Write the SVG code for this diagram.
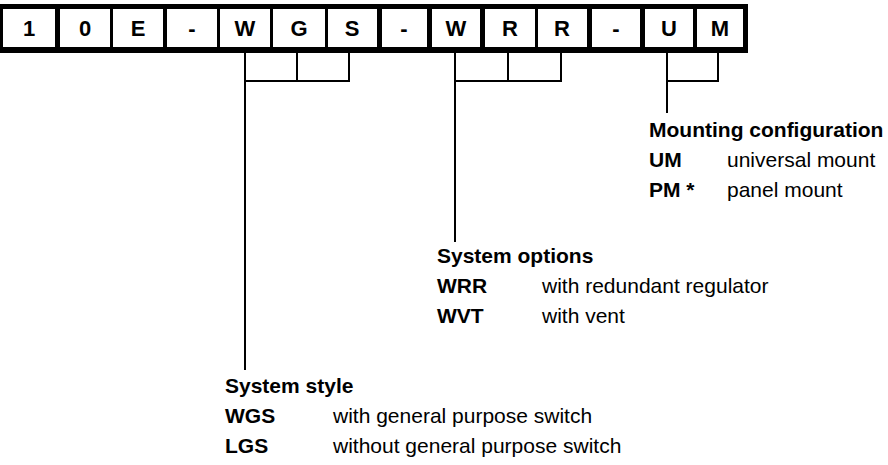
<svg xmlns="http://www.w3.org/2000/svg" width="888" height="465" viewBox="0 0 888 465">
<style>
text{font-family:"Liberation Sans",Arial,Helvetica,sans-serif;font-size:21px;fill:#000}
.b{font-weight:bold}
.c{font-weight:bold;text-anchor:middle;font-size:22px}
.cell{fill:#fff}
.ln{stroke:#000;stroke-width:2;fill:none}
</style>
<rect width="888" height="465" fill="#fff"/>
<g id="code">
<rect x="0" y="4" width="748" height="49" fill="#000"/>
<g id="c1"><rect class="cell" x="3" y="9" width="52" height="38"/><text class="c" x="29" y="35.5">1</text></g>
<g id="c2"><rect class="cell" x="60" y="9" width="50" height="38"/><text class="c" x="85" y="35.5">0</text></g>
<g id="c3"><rect class="cell" x="113" y="9" width="50" height="38"/><text class="c" x="138" y="35.5">E</text></g>
<g id="c4"><rect class="cell" x="167" y="9" width="50" height="38"/><text class="c" x="192" y="35.5">-</text></g>
<g id="c5"><rect class="cell" x="220" y="9" width="50" height="38"/><text class="c" x="245" y="35.5">W</text></g>
<g id="c6"><rect class="cell" x="273" y="9" width="52" height="38"/><text class="c" x="299" y="35.5">G</text></g>
<g id="c7"><rect class="cell" x="328" y="9" width="49" height="38"/><text class="c" x="352" y="35.5">S</text></g>
<g id="c8"><rect class="cell" x="382" y="9" width="45" height="38"/><text class="c" x="404" y="35.5">-</text></g>
<g id="c9"><rect class="cell" x="432" y="9" width="48" height="38"/><text class="c" x="456" y="35.5">W</text></g>
<g id="c10"><rect class="cell" x="485" y="9" width="50" height="38"/><text class="c" x="510" y="35.5">R</text></g>
<g id="c11"><rect class="cell" x="538" y="9" width="49" height="38"/><text class="c" x="562" y="35.5">R</text></g>
<g id="c12"><rect class="cell" x="592" y="9" width="48" height="38"/><text class="c" x="616" y="35.5">-</text></g>
<g id="c13"><rect class="cell" x="645" y="9" width="48" height="38"/><text class="c" x="669" y="35.5">U</text></g>
<g id="c14"><rect class="cell" x="697" y="9" width="46" height="38"/><text class="c" x="720" y="35.5">M</text></g>
</g>
<g id="connectors">
<path class="ln" d="M245 53V370M297 53V81M349 53V81M244 81H350"/>
<path class="ln" d="M455 53V242M508 53V81M561 53V81M454 81H562"/>
<path class="ln" d="M667 53V113M718 53V81M666 81H719"/>
</g>
<g id="mounting">
<text class="b" x="649" y="137">Mounting configuration</text>
<text class="b" x="649" y="167">UM</text><text x="727" y="167">universal mount</text>
<text class="b" x="649" y="197">PM *</text><text x="727" y="197">panel mount</text>
</g>
<g id="options">
<text class="b" x="437" y="263">System options</text>
<text class="b" x="437" y="293">WRR</text><text x="542" y="293">with redundant regulator</text>
<text class="b" x="437" y="323">WVT</text><text x="542" y="323">with vent</text>
</g>
<g id="style">
<text class="b" x="225" y="393">System style</text>
<text class="b" x="225" y="423">WGS</text><text x="333" y="423">with general purpose switch</text>
<text class="b" x="225" y="453">LGS</text><text x="333" y="453">without general purpose switch</text>
</g>
</svg>
